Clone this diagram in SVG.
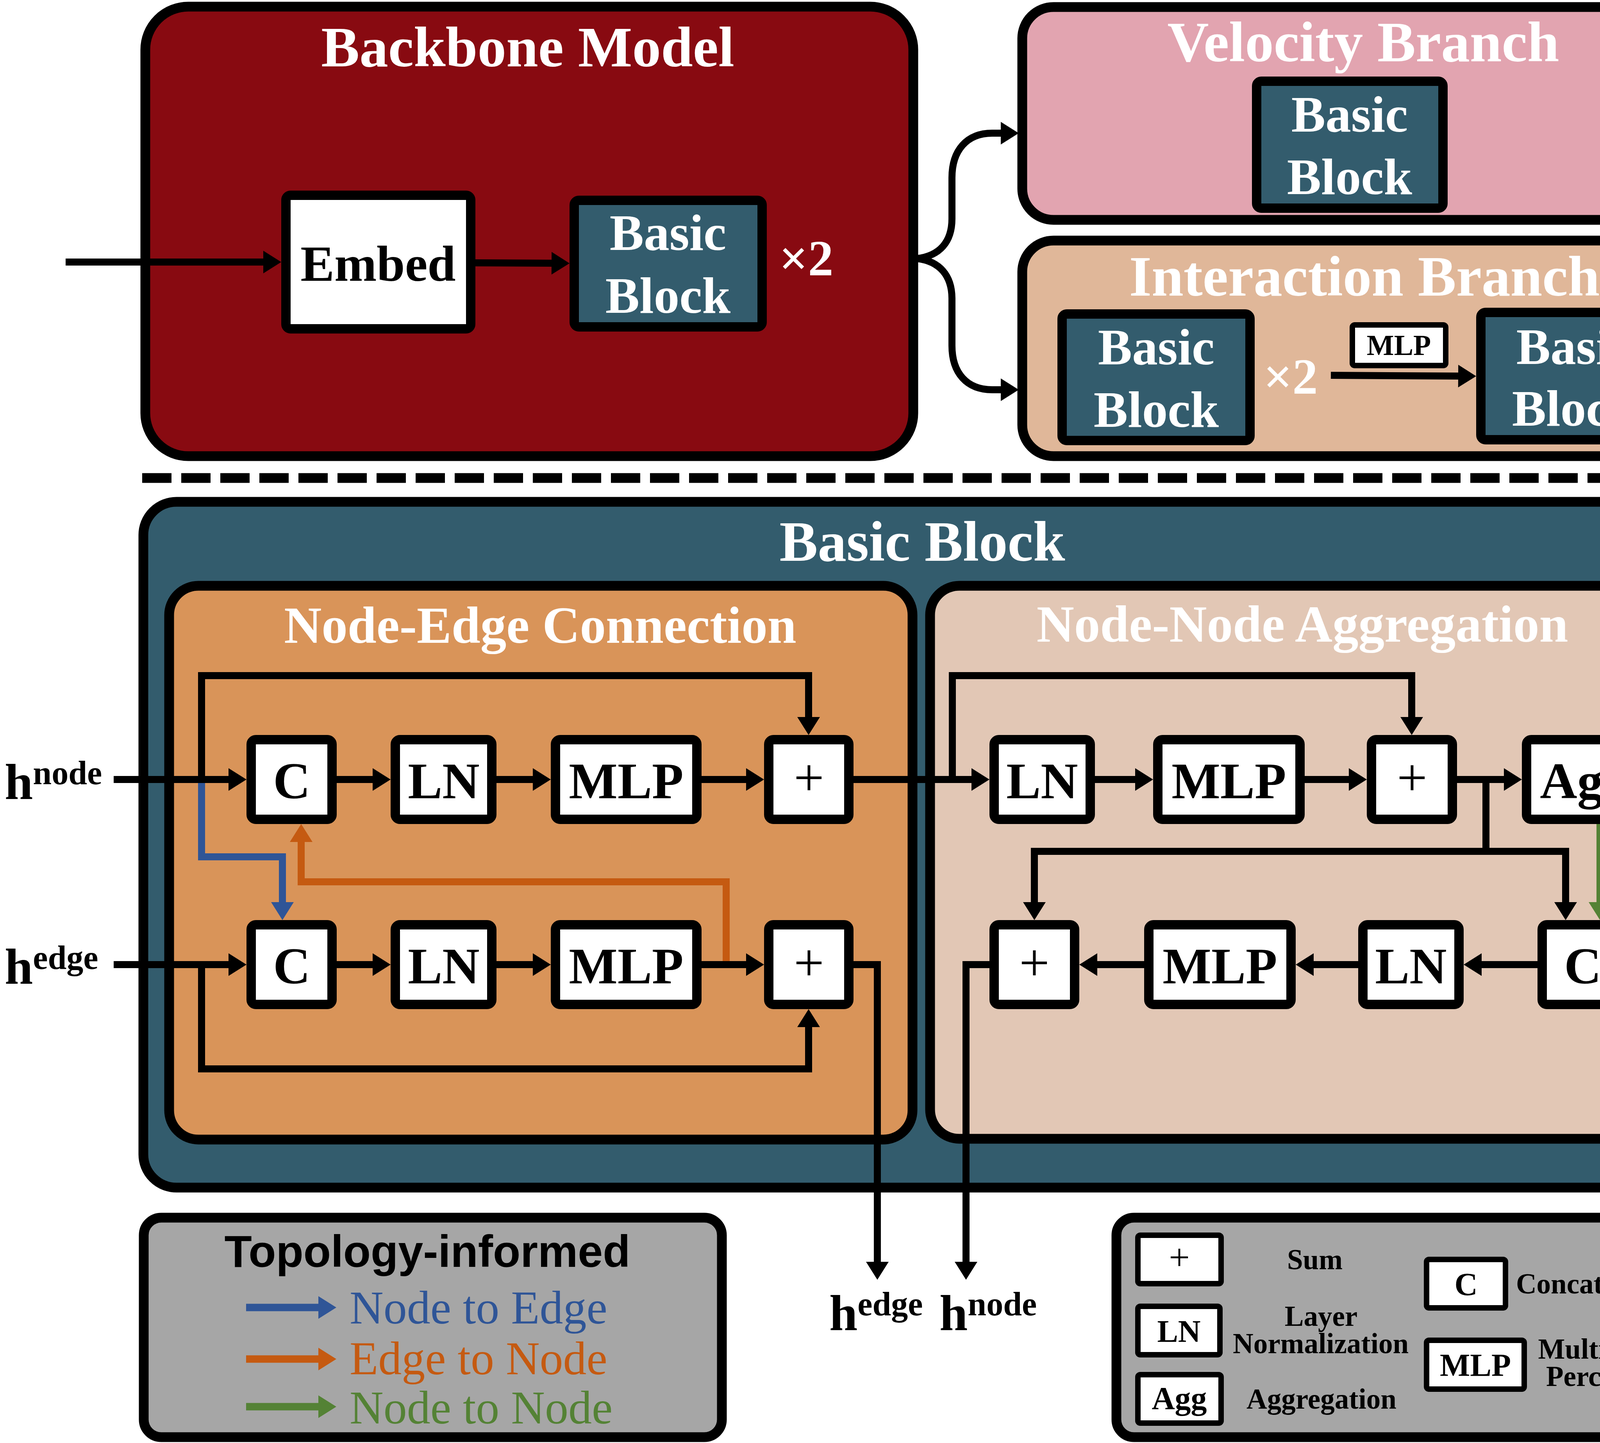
<svg xmlns="http://www.w3.org/2000/svg" width="4379" height="3695" viewBox="0 0 4379 3695">
<defs>
<style>
.box{stroke:#000;stroke-width:25}
.node{fill:#fff;stroke:#000;stroke-width:24}
.bb{fill:#335C6D;stroke:#000;stroke-width:24}
.lg{fill:#fff;stroke:#000;stroke-width:14}
.t{font-family:"Liberation Serif","Times New Roman",serif;font-weight:bold;text-anchor:middle}
.r{font-family:"Liberation Serif","Times New Roman",serif;font-weight:normal;text-anchor:middle}
.w{fill:#fff}
.k{fill:#000}
.ln{fill:none;stroke:#000;stroke-width:18;stroke-linejoin:miter}
</style>
<marker id="ak" markerUnits="userSpaceOnUse" markerWidth="50" markerHeight="60" refX="4" refY="30" orient="auto" overflow="visible"><path d="M0,1 L46,30 L0,59 z" fill="#000"/></marker>
<marker id="ab" markerUnits="userSpaceOnUse" markerWidth="50" markerHeight="60" refX="4" refY="30" orient="auto" overflow="visible"><path d="M0,1 L46,30 L0,59 z" fill="#2F5597"/></marker>
<marker id="ao" markerUnits="userSpaceOnUse" markerWidth="50" markerHeight="60" refX="4" refY="30" orient="auto" overflow="visible"><path d="M0,1 L46,30 L0,59 z" fill="#C55A11"/></marker>
<marker id="ag" markerUnits="userSpaceOnUse" markerWidth="50" markerHeight="60" refX="4" refY="30" orient="auto" overflow="visible"><path d="M0,1 L46,30 L0,59 z" fill="#548235"/></marker>
</defs>
<rect width="4379" height="3695" fill="#fff"/>

<g id="backbone">
<rect class="box" x="372" y="17" width="1966" height="1151" rx="110" fill="#880A11"/>
<text class="t w" x="1351" y="170" font-size="147">Backbone Model</text>
<text class="t w" x="2064" y="705" font-size="130">&#215;2</text>
</g>
<g id="velocity-branch">
<rect class="box" x="2617" y="18" width="1743" height="545" rx="80" fill="#E2A4B0"/>
<text class="t w" x="3490" y="157" font-size="147">Velocity Branch</text>
</g>
<g id="interaction-branch">
<rect class="box" x="2617" y="616" width="1743" height="552" rx="80" fill="#E0B799"/>
<text class="t w" x="3493" y="757" font-size="147">Interaction Branch</text>
<text class="t w" x="3304" y="1008" font-size="130">&#215;2</text>
</g>
<g id="separator">
<line x1="364" y1="1224" x2="4339" y2="1224" stroke="#000" stroke-width="25" stroke-dasharray="75 25"/>
</g>
<g id="basic-block-detail">
<rect class="box" x="367" y="1285" width="3993" height="1756" rx="85" fill="#335C6D"/>
<text class="t w" x="2361" y="1436" font-size="147">Basic Block</text>
</g>
<g id="node-edge-connection">
<rect class="box" x="433" y="1500" width="1903" height="1418" rx="75" fill="#D99459"/>
<text class="t w" x="1383" y="1646" font-size="133">Node-Edge Connection</text>
</g>
<g id="node-node-aggregation">
<rect class="box" x="2381" y="1500" width="1911" height="1416" rx="75" fill="#E2C7B5"/>
<text class="t w" x="3334" y="1643" font-size="133">Node-Node Aggregation</text>
</g>
<g id="legend-topology">
<rect class="box" x="368" y="3118" width="1480" height="562" rx="45" fill="#A6A6A6"/>
<text x="1094" y="3244" font-family="'Liberation Sans',Arial,sans-serif" font-weight="bold" font-size="115" text-anchor="middle" fill="#000">Topology-informed</text>
<line x1="630" y1="3348" x2="819" y2="3348" stroke="#2F5597" stroke-width="19" marker-end="url(#ab)"/>
<line x1="630" y1="3480" x2="819" y2="3480" stroke="#C55A11" stroke-width="19" marker-end="url(#ao)"/>
<line x1="630" y1="3602" x2="819" y2="3602" stroke="#548235" stroke-width="19" marker-end="url(#ag)"/>
<text x="895" y="3389" font-family="'Liberation Serif','Times New Roman',serif" font-size="120" fill="#2F5597">Node to Edge</text>
<text x="895" y="3519" font-family="'Liberation Serif','Times New Roman',serif" font-size="120" fill="#C55A11">Edge to Node</text>
<text x="895" y="3645" font-family="'Liberation Serif','Times New Roman',serif" font-size="120" fill="#548235">Node to Node</text>
</g>
<g id="legend-symbols">
<rect class="box" x="2858" y="3118" width="1505" height="562" rx="45" fill="#A6A6A6"/>
<rect class="lg" x="2913" y="3163" width="213" height="124" rx="6"/>
<text class="r k" x="3019" y="3251" font-size="95">+</text>
<rect class="lg" x="2913" y="3345" width="210" height="124" rx="6"/>
<text class="t k" x="3018" y="3436" font-size="80">LN</text>
<rect class="lg" x="2913" y="3520" width="213" height="124" rx="6"/>
<text class="t k" x="3019" y="3608" font-size="82">Agg</text>
<rect class="lg" x="3652" y="3225" width="202" height="124" rx="6"/>
<text class="t k" x="3753" y="3316" font-size="82">C</text>
<rect class="lg" x="3652" y="3432" width="250" height="125" rx="6"/>
<text class="t k" x="3777" y="3523" font-size="82">MLP</text>
<text class="t k" x="3366" y="3250" font-size="73">Sum</text>
<text class="t k" x="3382" y="3395" font-size="73">Layer</text>
<text class="t k" x="3381" y="3465" font-size="73">Normalization</text>
<text class="t k" x="3383" y="3607" font-size="73">Aggregation</text>
<text class="t k" x="4108" y="3312" font-size="73">Concatenation</text>
<text class="t k" x="4130" y="3479" font-size="73">Multi-Layer</text>
<text class="t k" x="4131" y="3549" font-size="73">Perceptron</text>
</g>

<g id="connectors">
<line class="ln" x1="168" y1="671" x2="678" y2="671" marker-end="url(#ak)"/>
<line class="ln" x1="1210" y1="673" x2="1416" y2="674" marker-end="url(#ak)"/>
<path class="ln" d="M2348 662 C2405 655 2437 620 2437 560 V455 C2437 385 2475 341 2540 341 H2566" stroke-width="16" marker-end="url(#ak)"/>
<path class="ln" d="M2348 662 C2405 669 2437 705 2437 765 V885 C2437 955 2475 998 2540 998 H2566" stroke-width="16" marker-end="url(#ak)"/>
<line class="ln" x1="3407" y1="961" x2="3737" y2="963" marker-end="url(#ak)"/>

<path d="M516 2004 V2194 H723 V2314" fill="none" stroke="#2F5597" stroke-width="18" marker-end="url(#ab)"/>
<path d="M1859 2470 V2258 H771 V2152" fill="none" stroke="#C55A11" stroke-width="18" marker-end="url(#ao)"/>

<line class="ln" x1="291" y1="1996" x2="589" y2="1996" marker-end="url(#ak)"/>
<path class="ln" d="M516 1996 V1730 H2070 V1840" marker-end="url(#ak)"/>
<line class="ln" x1="850" y1="1996" x2="958" y2="1996" marker-end="url(#ak)"/>
<line class="ln" x1="1260" y1="1996" x2="1368" y2="1996" marker-end="url(#ak)"/>
<line class="ln" x1="1784" y1="1996" x2="1914" y2="1996" marker-end="url(#ak)"/>
<line class="ln" x1="2173" y1="1996" x2="2491" y2="1996" marker-end="url(#ak)"/>

<line class="ln" x1="291" y1="2470" x2="589" y2="2470" marker-end="url(#ak)"/>
<path class="ln" d="M516 2470 V2737 H2070 V2626" marker-end="url(#ak)"/>
<line class="ln" x1="850" y1="2470" x2="958" y2="2470" marker-end="url(#ak)"/>
<line class="ln" x1="1260" y1="2470" x2="1368" y2="2470" marker-end="url(#ak)"/>
<line class="ln" x1="1784" y1="2470" x2="1914" y2="2470" marker-end="url(#ak)"/>
<path class="ln" d="M2173 2470 H2246 V3235" marker-end="url(#ak)"/>

<path class="ln" d="M2438 1996 V1730 H3614 V1840" marker-end="url(#ak)"/>
<line class="ln" x1="2791" y1="1996" x2="2910" y2="1996" marker-end="url(#ak)"/>
<line class="ln" x1="3328" y1="1996" x2="3457" y2="1996" marker-end="url(#ak)"/>
<line class="ln" x1="3718" y1="1996" x2="3854" y2="1996" marker-end="url(#ak)"/>
<path class="ln" d="M3804 1996 V2180 H2648 V2314" marker-end="url(#ak)"/>
<path class="ln" d="M3804 2180 H4008 V2314" marker-end="url(#ak)"/>
<line x1="4096" y1="2100" x2="4096" y2="2314" stroke="#548235" stroke-width="18" marker-end="url(#ag)"/>
<line class="ln" x1="3948" y1="2470" x2="3789" y2="2470" marker-end="url(#ak)"/>
<line class="ln" x1="3489" y1="2470" x2="3359" y2="2470" marker-end="url(#ak)"/>
<line class="ln" x1="2941" y1="2470" x2="2805" y2="2470" marker-end="url(#ak)"/>
<path class="ln" d="M2545 2470 H2473 V3235" marker-end="url(#ak)"/>
</g>

<g id="embed">
<rect class="node" x="732" y="500" width="473" height="342" rx="12"/>
<text class="t k" x="968" y="719" font-size="130">Embed</text>
</g>
<g id="backbone-basic-block">
<rect class="bb" x="1470" y="513" width="481" height="324" rx="12"/>
<text class="t w" x="1710" y="640" font-size="131">Basic</text>
<text class="t w" x="1710" y="801" font-size="131">Block</text>
</g>
<g id="velocity-basic-block">
<rect class="bb" x="3217" y="208" width="477" height="325" rx="12"/>
<text class="t w" x="3455" y="337" font-size="131">Basic</text>
<text class="t w" x="3455" y="497" font-size="131">Block</text>
</g>
<g id="interaction-basic-block-1">
<rect class="bb" x="2719" y="804" width="481" height="324" rx="12"/>
<text class="t w" x="2960" y="933" font-size="131">Basic</text>
<text class="t w" x="2960" y="1093" font-size="131">Block</text>
</g>
<g id="interaction-mlp">
<rect class="lg" x="3462" y="832" width="239" height="104" rx="6"/>
<text class="t k" x="3581" y="909" font-size="74">MLP</text>
</g>
<g id="interaction-basic-block-2">
<rect class="bb" x="3791" y="800" width="480" height="326" rx="12"/>
<text class="t w" x="4031" y="932" font-size="131">Basic</text>
<text class="t w" x="4031" y="1090" font-size="131">Block</text>
</g>

<g id="ne-c-top"><rect class="node" x="643" y="1894" width="207" height="204" rx="12"/><text class="t k" x="747" y="2044" font-size="132">C</text></g>
<g id="ne-ln-top"><rect class="node" x="1012" y="1894" width="247" height="204" rx="12"/><text class="t k" x="1136" y="2044" font-size="132">LN</text></g>
<g id="ne-mlp-top"><rect class="node" x="1422" y="1894" width="362" height="204" rx="12"/><text class="t k" x="1603" y="2044" font-size="132">MLP</text></g>
<g id="ne-sum-top"><rect class="node" x="1968" y="1894" width="205" height="204" rx="12"/><text class="r k" x="2071" y="2037" font-size="138">+</text></g>
<g id="ne-c-bottom"><rect class="node" x="643" y="2368" width="207" height="204" rx="12"/><text class="t k" x="747" y="2518" font-size="132">C</text></g>
<g id="ne-ln-bottom"><rect class="node" x="1012" y="2368" width="247" height="204" rx="12"/><text class="t k" x="1136" y="2518" font-size="132">LN</text></g>
<g id="ne-mlp-bottom"><rect class="node" x="1422" y="2368" width="362" height="204" rx="12"/><text class="t k" x="1603" y="2518" font-size="132">MLP</text></g>
<g id="ne-sum-bottom"><rect class="node" x="1968" y="2368" width="205" height="204" rx="12"/><text class="r k" x="2071" y="2511" font-size="138">+</text></g>

<g id="nn-ln-top"><rect class="node" x="2545" y="1894" width="246" height="204" rx="12"/><text class="t k" x="2668" y="2044" font-size="132">LN</text></g>
<g id="nn-mlp-top"><rect class="node" x="2964" y="1894" width="364" height="204" rx="12"/><text class="t k" x="3146" y="2044" font-size="132">MLP</text></g>
<g id="nn-sum-top"><rect class="node" x="3511" y="1894" width="207" height="204" rx="12"/><text class="r k" x="3615" y="2037" font-size="138">+</text></g>
<g id="nn-agg"><rect class="node" x="3908" y="1894" width="295" height="204" rx="12"/><text class="t k" x="4056" y="2044" font-size="132">Agg</text></g>
<g id="nn-sum-bottom"><rect class="node" x="2545" y="2368" width="206" height="204" rx="12"/><text class="r k" x="2648" y="2511" font-size="138">+</text></g>
<g id="nn-mlp-bottom"><rect class="node" x="2941" y="2368" width="364" height="204" rx="12"/><text class="t k" x="3123" y="2518" font-size="132">MLP</text></g>
<g id="nn-ln-bottom"><rect class="node" x="3489" y="2368" width="246" height="204" rx="12"/><text class="t k" x="3612" y="2518" font-size="132">LN</text></g>
<g id="nn-c-bottom"><rect class="node" x="3948" y="2368" width="208" height="204" rx="12"/><text class="t k" x="4052" y="2518" font-size="132">C</text></g>

<g id="labels">
<text x="12" y="2046" font-family="'Liberation Serif','Times New Roman',serif" font-weight="bold" font-size="130" fill="#000">h<tspan y="2008" font-size="86">node</tspan></text>
<text x="12" y="2519" font-family="'Liberation Serif','Times New Roman',serif" font-weight="bold" font-size="130" fill="#000">h<tspan y="2481" font-size="86">edge</tspan></text>
<text x="2123" y="3406" font-family="'Liberation Serif','Times New Roman',serif" font-weight="bold" font-size="130" fill="#000">h<tspan y="3368" font-size="86">edge</tspan></text>
<text x="2405" y="3406" font-family="'Liberation Serif','Times New Roman',serif" font-weight="bold" font-size="130" fill="#000">h<tspan y="3368" font-size="86">node</tspan></text>
</g>
</svg>
